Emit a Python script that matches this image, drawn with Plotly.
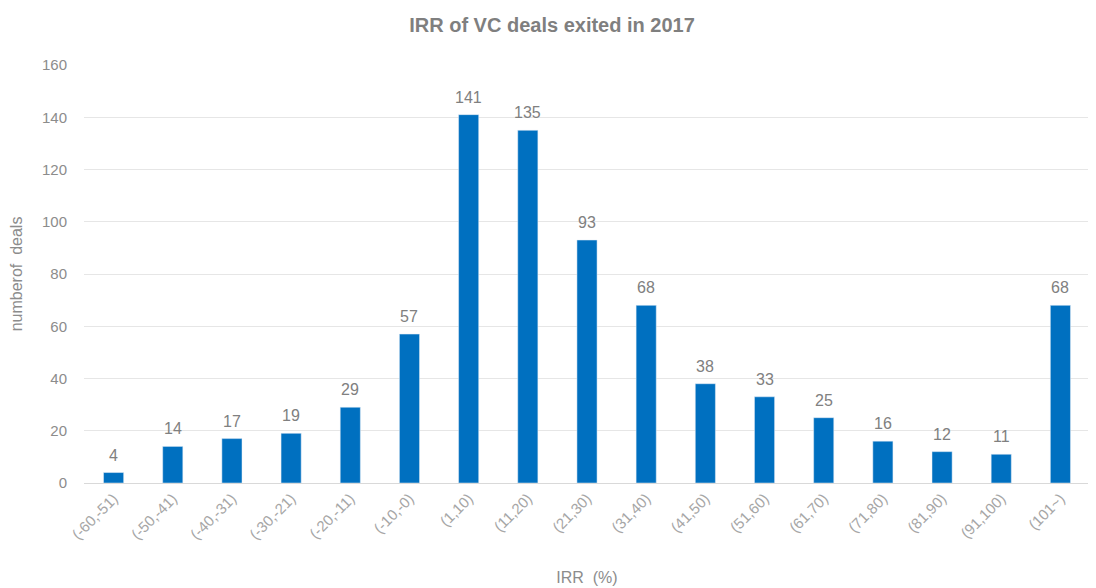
import plotly.graph_objects as go

categories = ["(-60,-51)", "(-50,-41)", "(-40,-31)", "(-30,-21)", "(-20,-11)", "(-10,-0)",
              "(1,10)", "(11,20)", "(21,30)", "(31,40)", "(41,50)", "(51,60)", "(61,70)",
              "(71,80)", "(81,90)", "(91,100)", "(101~)"]
deals = [4, 14, 17, 19, 29, 57, 141, 135, 93, 68, 38, 33, 25, 16, 12, 11, 68]
y_ticks = [0, 20, 40, 60, 80, 100, 120, 140, 160]

fig = go.Figure(go.Bar(x=categories, y=deals, marker_color="#0070C0", cliponaxis=False))
for c, v in zip(categories, deals):
    fig.add_annotation(x=c, y=v, text=str(v), showarrow=False, yanchor="bottom", yshift=7,
                       font=dict(size=16, color="#808080", family="Liberation Sans, Arial, sans-serif"))
fig.update_layout(
    width=1088, height=580,
    margin=dict(l=76, r=6, t=57, b=105),
    paper_bgcolor="white", plot_bgcolor="white",
    bargap=0.66,
    font=dict(family="Liberation Sans, Arial, sans-serif", color="#8c8c8c"),
    title=dict(text="<b>IRR of VC deals exited in 2017</b>", x=0.5, xref="container",
               xanchor="center", y=0.97, yref="container",
               yanchor="middle", font=dict(size=20, color="#7f7f7f")),
    showlegend=False,
)
fig.update_xaxes(tickangle=-45, tickfont=dict(size=15, color="#a6a6a6"), automargin=False,
                 showline=True, linecolor="#d9d9d9", ticks="",
                 title=dict(text="IRR  (%)", font=dict(size=16, color="#8c8c8c"), standoff=30))
fig.update_yaxes(range=[0, 160], tickvals=y_ticks, showgrid=True, gridcolor="#e6e6e6",
                 zeroline=False, tickfont=dict(size=15, color="#8c8c8c"), ticks="",
                 ticklabelstandoff=16, automargin=False,
                 title=dict(text="numberof  deals", font=dict(size=16, color="#8c8c8c"), standoff=16))
fig.write_html("out.html")
